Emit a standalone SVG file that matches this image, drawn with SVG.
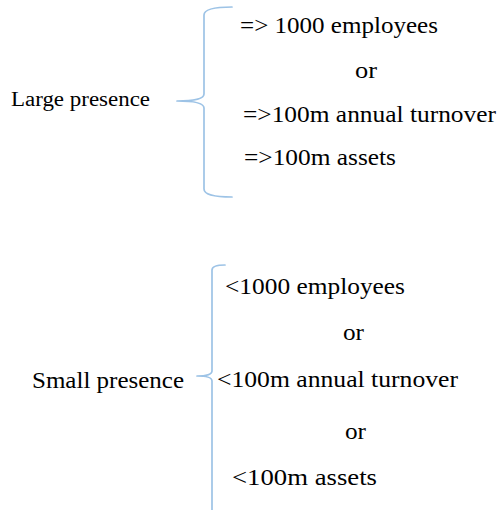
<svg xmlns="http://www.w3.org/2000/svg" width="500" height="510" viewBox="0 0 500 510">
  <style>
    text { font-family: 'Liberation Serif', 'Times New Roman', 'DejaVu Serif', serif; fill: #000000; }
    .brace { fill: none; stroke: #9dc3e6; stroke-width: 1.7; stroke-linecap: round; stroke-linejoin: round; }
  </style>
  <rect width="500" height="510" fill="#ffffff"/>

  <g id="connectors">
    <path class="brace" d="M232,7 Q204,7 204,15 L204,94 Q204,101 177,101 Q204,101 204,108 L204,189 Q204,197 232,197"/>
    <path class="brace" d="M225,265 Q212,265 212,270 L212,371 Q212,376 197,376 Q212,376 212,381 L212,510"/>
  </g>

  <g id="large-presence">
    <text x="11" y="106" font-size="20" textLength="139" lengthAdjust="spacingAndGlyphs">Large presence</text>
  </g>

  <g id="large-criteria">
    <text x="240" y="33" font-size="22.5" textLength="198" lengthAdjust="spacingAndGlyphs">=&gt; 1000 employees</text>
    <text x="355" y="78" font-size="22.5" textLength="22" lengthAdjust="spacingAndGlyphs">or</text>
    <text x="243" y="122" font-size="22.5" textLength="253" lengthAdjust="spacingAndGlyphs">=&gt;100m annual turnover</text>
    <text x="244" y="165" font-size="22.5" textLength="152" lengthAdjust="spacingAndGlyphs">=&gt;100m assets</text>
  </g>

  <g id="small-presence">
    <text x="32" y="388" font-size="22.5" textLength="152" lengthAdjust="spacingAndGlyphs">Small presence</text>
  </g>

  <g id="small-criteria">
    <text x="225" y="294" font-size="22.5" textLength="180" lengthAdjust="spacingAndGlyphs">&lt;1000 employees</text>
    <text x="343" y="340" font-size="22.5" textLength="21" lengthAdjust="spacingAndGlyphs">or</text>
    <text x="217" y="387" font-size="22.5" textLength="241" lengthAdjust="spacingAndGlyphs">&lt;100m annual turnover</text>
    <text x="345" y="439" font-size="22.5" textLength="21" lengthAdjust="spacingAndGlyphs">or</text>
    <text x="232" y="485" font-size="22.5" textLength="145" lengthAdjust="spacingAndGlyphs">&lt;100m assets</text>
  </g>
</svg>
